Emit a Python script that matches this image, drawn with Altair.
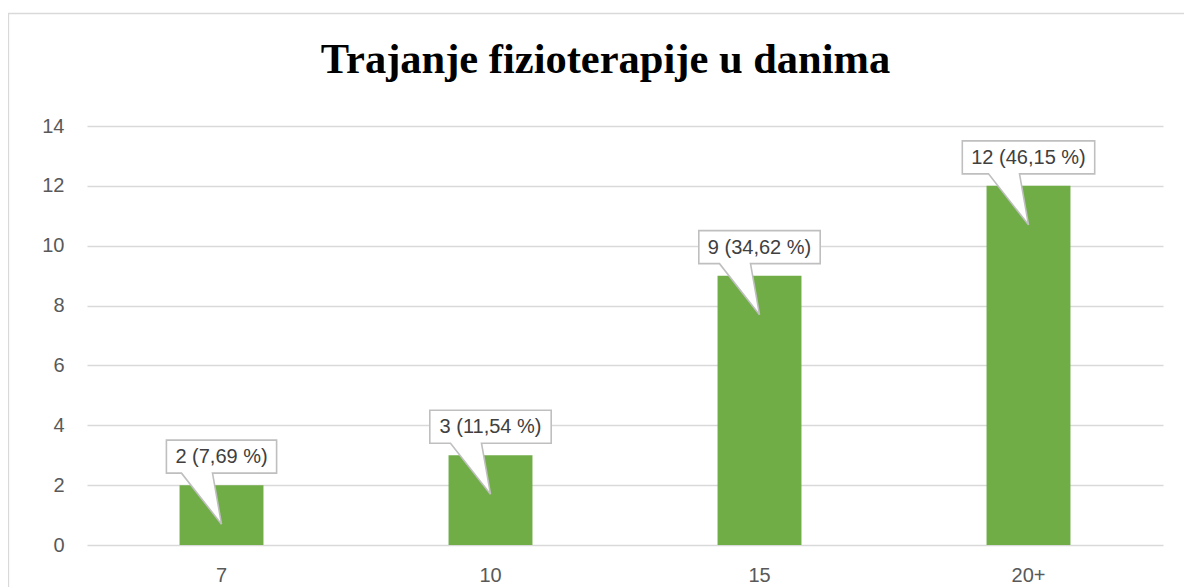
import altair as alt
import pandas as pd

# ---- data ----
categories = ["7", "10", "15", "20+"]
counts = [2, 3, 9, 12]
percents = [7.69, 11.54, 34.62, 46.15]
y_ticks = [0, 2, 4, 6, 8, 10, 12, 14]
title_text = "Trajanje fizioterapije u danima"

# ---- layout / style ----
W, H = 1076, 419
GREEN = "#70AD47"
GRID = "#D9D9D9"
AXIS_TXT = "#595959"
LABEL_TXT = "#404040"
FONT = "Liberation Sans"
FS = 20

# Liberation Sans (Arial metrics) advance widths per 1000 em
_W = {c: 556 for c in "0123456789"}
_W.update({" ": 278, "(": 333, ")": 333, ",": 278, "%": 889, "+": 584})


def text_width(s, size=FS):
    return sum(_W.get(ch, 556) for ch in s) * size / 1000.0


def callout_path(label):
    # box + pointer, in pixels relative to the bar top centre (size=4 -> scale 1)
    hw = text_width(label) / 2 + 9
    return (f"M{-hw:.1f},-45L{hw:.1f},-45L{hw:.1f},-12L-9,-12L0,39"
            f"L-40,-12L{-hw:.1f},-12Z")


labels = [f"{c} ({p:.2f} %)".replace(".", ",") for c, p in zip(counts, percents)]
df = pd.DataFrame({
    "cat": categories,
    "count": counts,
    "label": labels,
    "path": [callout_path(l) for l in labels],
})
one = pd.DataFrame({"k": [0]})

x_enc = alt.X(
    "cat:N", sort=categories,
    scale=alt.Scale(paddingInner=0.688, paddingOuter=0.344),
    axis=alt.Axis(title=None, labelAngle=0, domain=False, ticks=False,
                  labelPadding=20, labelFontSize=FS, labelColor=AXIS_TXT,
                  labelFont=FONT, grid=False),
)
y_enc = alt.Y(
    "count:Q",
    scale=alt.Scale(domain=[0, 14], nice=False),
    axis=alt.Axis(title=None, values=y_ticks, domain=False, ticks=False,
                  labelPadding=23, labelFontSize=FS, labelColor=AXIS_TXT,
                  labelFont=FONT, grid=True, gridColor=GRID, gridWidth=1.3),
)

border = alt.Chart(one).mark_rect(
    fill="white", fillOpacity=0, stroke=GRID, strokeWidth=1.3
).encode(
    x=alt.value(-78.5), x2=alt.value(W + 60),
    y=alt.value(-112.5), y2=alt.value(H + 80),
)

title = alt.Chart(one).mark_text(
    font="Liberation Serif", fontSize=42.5, fontWeight="bold", color="black",
    align="center", baseline="alphabetic",
).encode(
    x=alt.value(518.5), y=alt.value(-53), text=alt.value(title_text),
)

bars = alt.Chart(df).mark_bar(color=GREEN).encode(x=x_enc, y=y_enc)

callouts = alt.Chart(df).mark_point(
    filled=True, fill="white", stroke="#BFBFBF", strokeWidth=1.6,
    opacity=1, fillOpacity=1, size=4,
).encode(
    x=alt.X("cat:N", sort=categories),
    y=alt.Y("count:Q"),
    shape=alt.Shape("path:N", scale=None),
)

texts = alt.Chart(df).mark_text(
    font=FONT, fontSize=FS, color=LABEL_TXT, align="center",
    baseline="middle", dy=-28,
).encode(
    x=alt.X("cat:N", sort=categories),
    y=alt.Y("count:Q"),
    text="label:N",
)

chart = alt.layer(border, bars, callouts, texts, title).properties(
    width=W, height=H,
    autosize=alt.AutoSizeParams(type="none"),
    padding={"left": 79, "top": 118, "right": 21, "bottom": 42},
).configure_view(stroke=None)

chart.save("out.html", embed_options={"renderer": "svg", "actions": False})
